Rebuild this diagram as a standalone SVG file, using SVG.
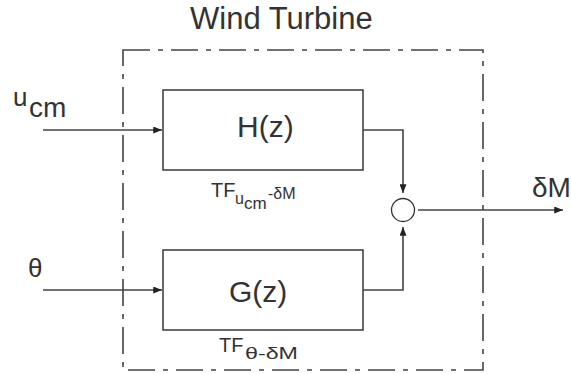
<svg xmlns="http://www.w3.org/2000/svg" width="571" height="374" viewBox="0 0 571 374">
<defs>
<style>
text{font-family:"Liberation Sans",Arial,sans-serif;fill:#333}
.blk{fill:#fff;stroke:#444;stroke-width:1.6}
.ln{fill:none;stroke:#444;stroke-width:1.6}
</style>
<marker id="ah" viewBox="0 0 10 8" refX="10" refY="4" markerWidth="10" markerHeight="7" markerUnits="userSpaceOnUse" orient="auto">
<path d="M0,0 L10,4 L0,8 Z" fill="#222"/>
</marker>
</defs>
<rect width="571" height="374" fill="#fff"/>
<g id="wind-turbine">
<rect x="123" y="50" width="360" height="320" fill="none" stroke="#444" stroke-width="1.6" stroke-dasharray="27 8 5 8"/>
<text x="190" y="29" font-size="31">Wind Turbine</text>
</g>
<g id="connectors">
<path class="ln" d="M43,130 H162" marker-end="url(#ah)"/>
<path class="ln" d="M43,290 H162" marker-end="url(#ah)"/>
<path class="ln" d="M363,130 H403 V193" marker-end="url(#ah)"/>
<path class="ln" d="M363,290 H403 V227" marker-end="url(#ah)"/>
<path class="ln" d="M418,210 H563" marker-end="url(#ah)"/>
</g>
<g id="H">
<rect class="blk" x="163" y="90" width="200" height="80"/>
<text x="237" y="137" font-size="30">H(z)</text>
<text x="211" y="197" font-size="20">TF<tspan font-size="16" x="235" y="204">u</tspan><tspan font-size="17" x="244" y="209">cm</tspan><tspan font-size="16" x="268" y="199">-δM</tspan></text>
</g>
<g id="G">
<rect class="blk" x="163" y="250" width="200" height="80"/>
<text x="229" y="302" font-size="30">G(z)</text>
<text x="219" y="352" font-size="20">TF<tspan font-size="17" x="245" y="359" textLength="53" lengthAdjust="spacingAndGlyphs">θ-δM</tspan></text>
</g>
<g id="sum">
<circle cx="403" cy="210" r="11.5" fill="#fff" stroke="#333" stroke-width="1.3"/>
</g>
<g id="u_cm">
<text x="13" y="106" font-size="26">u<tspan font-size="28" x="29" y="117">cm</tspan></text>
</g>
<g id="theta">
<text x="28" y="277" font-size="26">θ</text>
</g>
<g id="dM">
<text x="532" y="197" font-size="28">δM</text>
</g>
</svg>
